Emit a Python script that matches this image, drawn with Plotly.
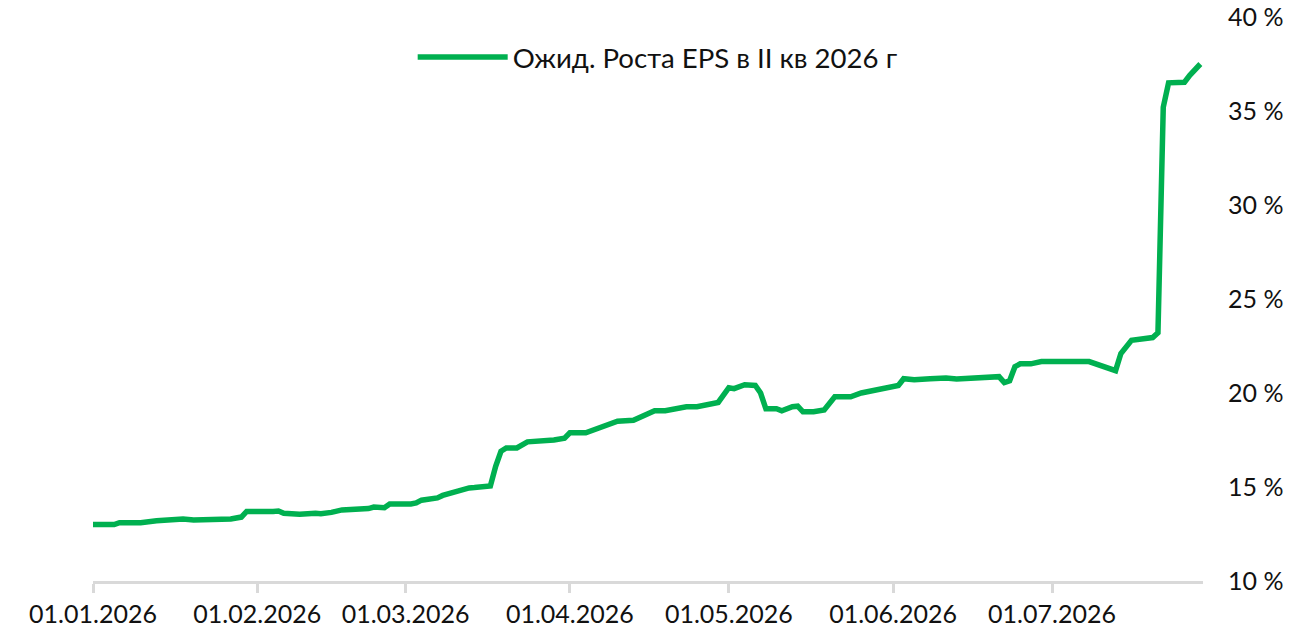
import pandas as pd
import plotly.graph_objects as go

# Ожидаемый рост EPS во II кв 2026 г, %
dates = [
    "2026-01-01", "2026-01-05", "2026-01-06", "2026-01-10", "2026-01-13",
    "2026-01-18", "2026-01-20", "2026-01-27", "2026-01-29", "2026-01-30",
    "2026-02-04", "2026-02-05", "2026-02-06", "2026-02-09", "2026-02-12",
    "2026-02-13", "2026-02-15", "2026-02-17", "2026-02-22", "2026-02-23",
    "2026-02-25", "2026-02-26", "2026-03-02", "2026-03-03", "2026-03-04",
    "2026-03-07", "2026-03-08", "2026-03-11", "2026-03-13", "2026-03-14",
    "2026-03-17", "2026-03-18", "2026-03-19", "2026-03-20", "2026-03-22",
    "2026-03-24", "2026-03-27", "2026-03-29", "2026-03-31", "2026-04-01",
    "2026-04-04", "2026-04-06", "2026-04-08", "2026-04-10", "2026-04-13",
    "2026-04-15", "2026-04-17", "2026-04-19", "2026-04-23", "2026-04-25",
    "2026-04-27", "2026-04-29", "2026-05-01", "2026-05-02", "2026-05-04",
    "2026-05-06", "2026-05-07", "2026-05-08", "2026-05-10", "2026-05-11",
    "2026-05-13", "2026-05-14", "2026-05-15", "2026-05-17", "2026-05-19",
    "2026-05-21", "2026-05-24", "2026-05-26", "2026-05-29", "2026-05-31",
    "2026-06-02", "2026-06-03", "2026-06-05", "2026-06-08", "2026-06-11",
    "2026-06-13", "2026-06-16", "2026-06-18", "2026-06-21", "2026-06-22",
    "2026-06-23", "2026-06-24", "2026-06-25", "2026-06-27", "2026-06-29",
    "2026-07-08", "2026-07-10", "2026-07-11", "2026-07-13", "2026-07-14",
    "2026-07-15", "2026-07-16", "2026-07-20", "2026-07-21", "2026-07-22",
    "2026-07-23", "2026-07-26", "2026-07-27", "2026-07-29",
]
eps_growth = [
    13.0, 13.0, 13.1, 13.1, 13.2,
    13.3, 13.25, 13.3, 13.4, 13.7,
    13.7, 13.72, 13.6, 13.55, 13.6,
    13.58, 13.65, 13.78, 13.85, 13.93,
    13.9, 14.1, 14.1, 14.15, 14.3,
    14.42, 14.55, 14.8, 14.95, 14.97,
    15.06, 16.1, 16.9, 17.08, 17.08,
    17.4, 17.45, 17.5, 17.6, 17.88,
    17.88, 18.1, 18.35, 18.5, 18.55,
    18.8, 19.06, 19.06, 19.27, 19.27,
    19.37, 19.5, 20.28, 20.23, 20.44,
    20.4, 20.0, 19.16, 19.16, 19.05,
    19.27, 19.3, 19.0, 19.0, 19.1,
    19.8, 19.8, 20.0, 20.17, 20.28,
    20.4, 20.76, 20.7, 20.76, 20.8,
    20.75, 20.8, 20.87, 20.87, 20.55,
    20.65, 21.4, 21.55, 21.55, 21.67,
    21.67, 21.45, 21.4, 21.19, 22.1,
    22.4, 22.8, 22.95, 23.2, 35.2,
    36.5, 36.53, 36.9, 37.5,
]
y_ticks = [10, 15, 20, 25, 30, 35, 40]
y_labels = [f"{v} %" for v in y_ticks]

df = pd.DataFrame({"date": pd.to_datetime(dates), "eps": eps_growth})

fig = go.Figure()
fig.add_trace(go.Scatter(
    x=df["date"], y=df["eps"], mode="lines",
    name="Ожид. Роста EPS в II кв 2026 г",
    line=dict(color="#00B050", width=5.5),
))

fig.update_layout(
    width=1299, height=643,
    margin=dict(l=93, r=96, t=17, b=62),
    paper_bgcolor="white", plot_bgcolor="white",
    font=dict(family="Lato, sans-serif", size=25, color="#111111"),
    showlegend=True,
    legend=dict(
        orientation="h", x=0.288, y=0.929, xanchor="left", yanchor="middle",
        itemwidth=90, font=dict(size=27.6), bgcolor="rgba(0,0,0,0)",
    ),
    xaxis=dict(
        range=["2026-01-01", "2026-07-29 12:00"],
        tickformat="%d.%m.%Y", dtick="M1", tick0="2026-01-01",
        showgrid=False, zeroline=False,
        showline=True, linecolor="#d9d9d9", linewidth=3,
        ticks="outside", ticklen=9, tickwidth=3, tickcolor="#d9d9d9",
        automargin=False,
    ),
    yaxis=dict(
        range=[10, 40], side="right",
        tickvals=y_ticks, ticktext=y_labels,
        showgrid=False, zeroline=False, showline=False,
        ticklabelstandoff=24, automargin=False, ticklabeloverflow="allow",
    ),
)

# drop the default 8px body margin so the figure fills the window exactly
fig.write_html(
    "out.html",
    config={"displayModeBar": False},
    post_script="document.body.style.margin='0';",
)
